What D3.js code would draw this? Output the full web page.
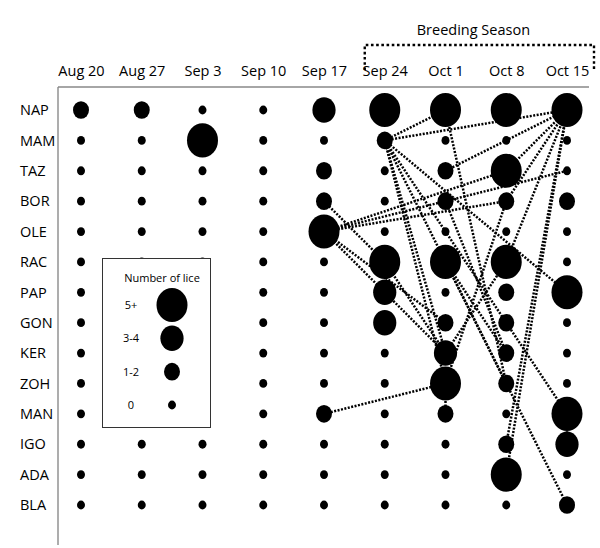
<!DOCTYPE html>
<html>
<head>
<meta charset="utf-8">
<script src="https://cdn.jsdelivr.net/npm/d3@7"></script>
<style>
  html, body { margin: 0; padding: 0; background: #fff; }
  svg { display: block; }
  text { font-family: "Open Sans", "Noto Sans", sans-serif; fill: #000; }
</style>
</head>
<body>
<svg id="chart" width="600" height="548"></svg>
<script>
// ---- data ----
const dates = ["Aug 20","Aug 27","Sep 3","Sep 10","Sep 17","Sep 24","Oct 1","Oct 8","Oct 15"];
const individuals = ["NAP","MAM","TAZ","BOR","OLE","RAC","PAP","GON","KER","ZOH","MAN","IGO","ADA","BLA"];
// lice category per date: 0 = "0", 1 = "1-2", 2 = "3-4", 3 = "5+"
const liceNAP = [1,1,0,0,2,3,3,3,3];
const liceMAM = [0,0,3,0,0,1,0,0,0];
const liceTAZ = [0,0,0,0,1,0,1,3,0];
const liceBOR = [0,0,0,0,1,0,1,1,1];
const liceOLE = [0,0,0,0,3,0,0,0,0];
const liceRAC = [0,0,0,0,0,3,3,3,0];
const licePAP = [0,0,0,0,0,2,0,1,3];
const liceGON = [0,0,0,0,0,2,1,1,0];
const liceKER = [0,0,0,0,0,0,2,1,0];
const liceZOH = [0,0,0,0,0,0,3,1,0];
const liceMAN = [0,0,0,0,1,0,1,0,3];
const liceIGO = [0,0,0,0,0,0,0,1,2];
const liceADA = [0,0,0,0,0,0,0,3,0];
const liceBLA = [0,0,0,0,0,0,0,0,1];
const legendLabels = ["5+","3-4","1-2","0"];
const legendCats = [3,2,1,0];
const breedingDates = ["Sep 24","Oct 15"];
// contacts: [individual, date, individual, date]
const contacts = [
  ["MAM","Sep 24","NAP","Oct 1"],
  ["MAM","Sep 24","NAP","Oct 15"],
  ["MAM","Sep 24","PAP","Oct 15"],
  ["MAM","Sep 24","KER","Oct 1"],
  ["MAM","Sep 24","ZOH","Oct 1"],
  ["MAM","Sep 24","BLA","Oct 15"],
  ["MAM","Sep 24","MAN","Oct 15"],
  ["NAP","Oct 15","TAZ","Oct 1"],
  ["NAP","Oct 15","TAZ","Oct 8"],
  ["NAP","Oct 15","BOR","Oct 8"],
  ["NAP","Oct 15","RAC","Oct 8"],
  ["NAP","Oct 15","IGO","Oct 8"],
  ["NAP","Oct 15","ADA","Oct 8"],
  ["NAP","Oct 1","ZOH","Oct 8"],
  ["OLE","Sep 17","TAZ","Oct 8"],
  ["OLE","Sep 17","TAZ","Oct 15"],
  ["OLE","Sep 17","BOR","Oct 8"],
  ["OLE","Sep 17","GON","Oct 1"],
  ["OLE","Sep 17","KER","Oct 1"],
  ["BOR","Sep 17","RAC","Sep 24"],
  ["RAC","Sep 24","KER","Oct 1"],
  ["RAC","Oct 1","KER","Oct 8"],
  ["RAC","Oct 1","ZOH","Oct 8"],
  ["KER","Oct 1","RAC","Oct 8"],
  ["ZOH","Oct 1","BOR","Oct 8"],
  ["BOR","Oct 1","KER","Oct 8"],
  ["MAN","Sep 17","ZOH","Oct 1"],
  ["ZOH","Oct 1","MAN","Oct 1"],
  ["MAN","Oct 15","IGO","Oct 15"]
];

const liceRows = {NAP:liceNAP,MAM:liceMAM,TAZ:liceTAZ,BOR:liceBOR,OLE:liceOLE,RAC:liceRAC,
  PAP:licePAP,GON:liceGON,KER:liceKER,ZOH:liceZOH,MAN:liceMAN,IGO:liceIGO,ADA:liceADA,BLA:liceBLA};

// ---- scales ----
const svg = d3.select("#chart");
const x = d3.scalePoint().domain(dates).range([81, 567]);
const y = d3.scalePoint().domain(individuals).range([110, 505]);
const rx = d3.scaleOrdinal().domain([0,1,2,3]).range([4, 8, 11.6, 15.5]);
const ryRatio = 1.1;

const cells = [];
individuals.forEach(ind => dates.forEach((d, i) => cells.push({ind, date: d, cat: liceRows[ind][i]})));

// ---- frame lines ----
svg.append("line").attr("x1", 58).attr("x2", 58).attr("y1", 87).attr("y2", 545)
  .attr("stroke", "#999").attr("stroke-width", 1.6);
svg.append("line").attr("x1", 58).attr("x2", 589).attr("y1", 87).attr("y2", 87)
  .attr("stroke", "#888").attr("stroke-width", 1.4);

// ---- column labels (axis) ----
const xAxis = svg.append("g").attr("transform", "translate(0,76)")
  .call(d3.axisTop(x).tickSize(0).tickPadding(0));
xAxis.select(".domain").remove();
xAxis.selectAll("text").style("font-size", "14.5px").style("font-family", '"Open Sans", sans-serif')
  .attr("dy", 0).attr("fill", "#000");

// ---- row labels ----
svg.append("g").selectAll("text").data(individuals).join("text")
  .attr("x", 20).attr("y", d => y(d)).attr("dy", "0.36em")
  .style("font-size", "14.5px").text(d => d);

// ---- breeding season bracket ----
const bx0 = x(breedingDates[0]) - 20, bx1 = x(breedingDates[1]) + 27;
svg.append("path")
  .attr("d", `M${bx0},70 L${bx0},45 L${bx1},45 L${bx1},70`)
  .attr("fill", "none").attr("stroke", "#000").attr("stroke-width", 2.4)
  .attr("stroke-dasharray", "2.6,2.6");
svg.append("text").attr("x", (bx0 + bx1) / 2 - 6).attr("y", 35).attr("text-anchor", "middle")
  .style("font-size", "14.5px").text("Breeding Season");

// ---- contact lines ----
svg.append("g").selectAll("line").data(contacts).join("line")
  .attr("x1", d => x(d[1])).attr("y1", d => y(d[0]))
  .attr("x2", d => x(d[3])).attr("y2", d => y(d[2]))
  .attr("stroke", "#000").attr("stroke-width", 2.5)
  .attr("stroke-dasharray", "2,1.5");

// ---- circles ----
svg.append("g").selectAll("ellipse").data(cells).join("ellipse")
  .attr("cx", d => x(d.date)).attr("cy", d => y(d.ind))
  .attr("rx", d => rx(d.cat)).attr("ry", d => rx(d.cat) * ryRatio)
  .attr("fill", "#000");

// ---- legend ----
const lg = svg.append("g");
lg.append("rect").attr("x", 102.5).attr("y", 258.5).attr("width", 108).attr("height", 169)
  .attr("fill", "#fff").attr("stroke", "#333").attr("stroke-width", 1);
lg.append("text").attr("x", 162).attr("y", 278).attr("dy", "0.35em").attr("text-anchor", "middle")
  .style("font-size", "11px").text("Number of lice");
const ly = d3.scalePoint().domain(legendLabels).range([305, 405]);
lg.selectAll("text.lab").data(legendLabels).join("text").attr("class", "lab")
  .attr("x", 131).attr("y", d => ly(d)).attr("dy", "0.35em").attr("text-anchor", "middle")
  .style("font-size", "11px").text(d => d);
lg.selectAll("ellipse").data(legendCats).join("ellipse")
  .attr("cx", 172).attr("cy", (d, i) => ly(legendLabels[i]))
  .attr("rx", d => rx(d)).attr("ry", d => rx(d) * ryRatio).attr("fill", "#000");
</script>
</body>
</html>
